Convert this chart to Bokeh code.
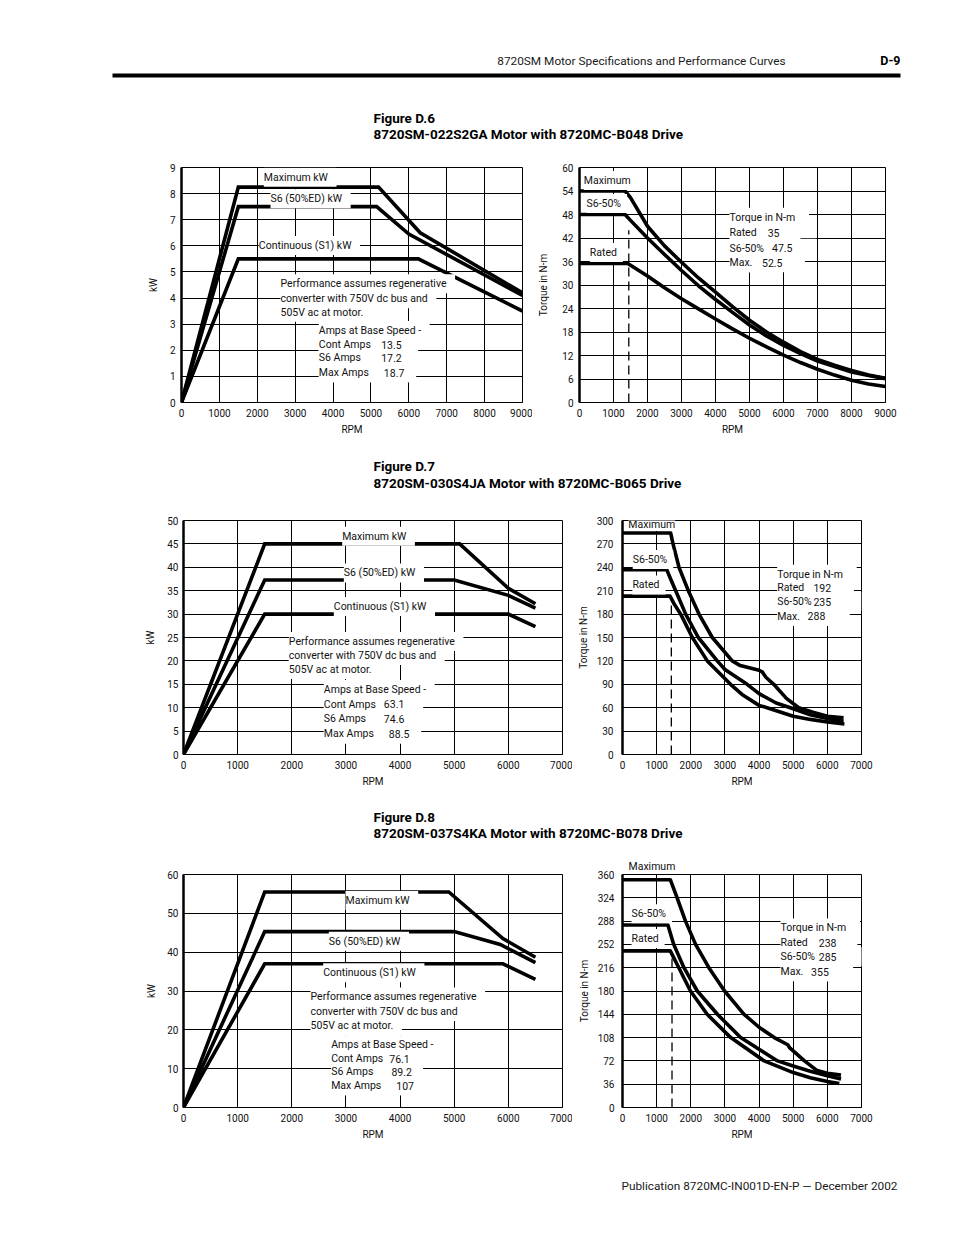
from bokeh.plotting import figure
from bokeh.layouts import column, row
from bokeh.models import Label, Range1d, FixedTicker, Title
from bokeh.core.properties import value
from bokeh.embed import file_html
from bokeh.resources import INLINE

FONT = "Roboto"

# ---------------- page texts ----------------
header_text = "8720SM Motor Specifications and Performance Curves"
page_no = "D-9"
footer_text = "Publication 8720MC-IN001D-EN-P \u2014 December 2002"
fig_numbers = ["Figure D.6", "Figure D.7", "Figure D.8"]
fig_titles = ["8720SM-022S2GA Motor with 8720MC-B048 Drive",
              "8720SM-030S4JA Motor with 8720MC-B065 Drive",
              "8720SM-037S4KA Motor with 8720MC-B078 Drive"]

note_lines = ["Performance assumes regenerative", "converter with 750V dc bus and", "505V ac at motor."]
amps_lines = ["Amps at Base Speed -", "Cont Amps", "S6 Amps", "Max Amps"]
torque_lines = ["Torque in N-m", "Rated", "S6-50%", "Max."]
kw_curve_names = ["Maximum kW", "S6 (50%ED) kW", "Continuous (S1) kW"]
tq_curve_names = ["Maximum", "S6-50%", "Rated"]

# ---------------- ticks ----------------
ticks_rpm_9000 = [0, 1000, 2000, 3000, 4000, 5000, 6000, 7000, 8000, 9000]
ticks_rpm_7000 = [0, 1000, 2000, 3000, 4000, 5000, 6000, 7000]
d6_kw_ticks = [0, 1, 2, 3, 4, 5, 6, 7, 8, 9]
d6_tq_ticks = [0, 6, 12, 18, 24, 30, 36, 42, 48, 54, 60]
d7_kw_ticks = [0, 5, 10, 15, 20, 25, 30, 35, 40, 45, 50]
d7_tq_ticks = [0, 30, 60, 90, 120, 150, 180, 210, 240, 270, 300]
d8_kw_ticks = [0, 10, 20, 30, 40, 50, 60]
d8_tq_ticks = [0, 36, 72, 108, 144, 180, 216, 252, 288, 324, 360]

# ---------------- Figure D.6 data ----------------
d6_kw_max_rpm = [0, 1500, 5200, 6300, 9000]
d6_kw_max = [0, 8.25, 8.25, 6.5, 4.2]
d6_kw_s6_rpm = [0, 1500, 5150, 6000, 9000]
d6_kw_s6 = [0, 7.5, 7.5, 6.45, 4.1]
d6_kw_cont_rpm = [0, 1500, 6250, 9000]
d6_kw_cont = [0, 5.5, 5.5, 3.5]
d6_amps = ["13.5", "17.2", "18.7"]

d6_tq_max_rpm = [0, 1340, 1500, 2000, 2500, 3000, 3500, 4000, 4500, 5000, 5500, 6000, 6500, 7000, 7500, 8000, 8500, 9000]
d6_tq_max = [54, 54, 52.3, 45, 40, 35.8, 31.8, 28.2, 24.5, 21, 18, 15.4, 13, 11, 9.5, 8.2, 7, 6.2]
d6_tq_s6_rpm = [0, 1340, 1500, 2000, 2500, 3000, 3500, 4000, 4500, 5000, 5500, 6000, 6500, 7000, 7500, 8000, 8500, 9000]
d6_tq_s6 = [48, 48, 46.5, 42, 37.8, 33.7, 29.8, 26.3, 23, 19.8, 17, 14.6, 12.5, 10.6, 9.2, 7.8, 6.9, 6.1]
d6_tq_rated_rpm = [0, 1420, 2000, 2500, 3000, 3500, 4000, 4500, 5000, 5500, 6000, 6500, 7000, 7500, 8000, 8500, 9000]
d6_tq_rated = [35.5, 35.5, 32.3, 29.3, 26.5, 23.9, 21.3, 18.8, 16.4, 14.2, 12.1, 10.2, 8.5, 7, 5.7, 4.7, 4.1]
d6_torque_vals = ["35", "47.5", "52.5"]
d6_base_rpm = [1450, 1450]
d6_base_tq = [0, 44]

# ---------------- Figure D.7 data ----------------
d7_kw_max_rpm = [0, 1500, 5100, 6000, 6500]
d7_kw_max = [0, 45, 45, 35.5, 32.2]
d7_kw_s6_rpm = [0, 1500, 5000, 6000, 6500]
d7_kw_s6 = [0, 37.3, 37.3, 34, 31.3]
d7_kw_cont_rpm = [0, 1500, 6000, 6500]
d7_kw_cont = [0, 30, 30, 27.3]
d7_amps = ["63.1", "74.6", "88.5"]

d7_tq_max_rpm = [0, 1410, 1480, 1655, 1928, 2240, 2630, 3213, 3450, 4000, 4090, 4200, 4430, 4800, 5160, 5600, 6000, 6475]
d7_tq_max = [284, 284, 270, 240, 210, 180, 150, 120, 114, 108, 106, 99, 90, 72, 60, 54, 49, 47]
d7_tq_s6_rpm = [0, 1295, 1400, 1558, 1850, 2220, 2775, 3000, 3650, 4000, 4500, 4917, 5500, 6000, 6475]
d7_tq_s6 = [237, 237, 226, 210, 180, 150, 120, 109, 90, 78, 66, 60, 51, 46, 42.5]
d7_tq_rated_rpm = [0, 1392, 1500, 1704, 2045, 2483, 3165, 3500, 4000, 4236, 5000, 5500, 6000, 6500]
d7_tq_rated = [203, 203, 194, 180, 150, 120, 90, 77, 63, 60, 49, 45, 41.7, 39]
d7_torque_vals = ["192", "235", "288"]
d7_base_rpm = [1430, 1430]
d7_base_tq = [0, 197]

# ---------------- Figure D.8 data ----------------
d8_kw_max_rpm = [0, 1500, 4900, 5900, 6500]
d8_kw_max = [0, 55.5, 55.5, 43.5, 38.7]
d8_kw_s6_rpm = [0, 1500, 5000, 5850, 6500]
d8_kw_s6 = [0, 45.3, 45.3, 42, 37.3]
d8_kw_cont_rpm = [0, 1500, 5900, 6500]
d8_kw_cont = [0, 37, 37, 33]
d8_amps = ["76.1", "89.2", "107"]

d8_tq_max_rpm = [0, 1400, 1600, 1845, 2140, 2530, 2990, 3560, 4000, 4445, 4840, 4900, 5330, 5700, 6000, 6400]
d8_tq_max = [352, 352, 324, 288, 252, 216, 180, 144, 124, 108, 97, 92, 72, 57, 53, 50]
d8_tq_s6_rpm = [0, 1330, 1500, 1800, 2190, 2780, 3460, 4540, 5000, 5500, 6000, 6400]
d8_tq_s6 = [282, 282, 252, 216, 180, 144, 108, 72, 64, 56, 49, 44]
d8_tq_rated_rpm = [0, 1400, 1650, 1990, 2480, 3170, 4150, 5000, 5500, 6000, 6350]
d8_tq_rated = [242, 242, 216, 180, 144, 108, 72, 54, 46, 40, 37]
d8_torque_vals = ["238", "285", "355"]
d8_base_rpm = [1450, 1450]
d8_base_tq = [0, 235]

TXT = "10.5px"
TICK = "10px"
INK = "#111111"
NB = "\u00a0"


def base_fig(w, h, bl, br, bt, bb, xr, yr, xticks, yticks, ylabel, ystd, ylstd, xstd=6, xlstd=4):
    p = figure(width=w, height=h, x_range=Range1d(*xr), y_range=Range1d(*yr),
               output_backend="svg", toolbar_location=None,
               min_border_left=bl, min_border_right=br, min_border_top=bt, min_border_bottom=bb)
    p.background_fill_color = "white"
    p.border_fill_color = "white"
    p.outline_line_color = "black"
    p.outline_line_width = 1
    p.xaxis.ticker = FixedTicker(ticks=xticks)
    p.yaxis.ticker = FixedTicker(ticks=yticks)
    p.xaxis.axis_label = "RPM"
    p.yaxis.axis_label = ylabel
    for ax in (p.xaxis, p.yaxis):
        ax.major_tick_out = 0
        ax.major_tick_in = 0
        ax.minor_tick_out = 0
        ax.minor_tick_in = 0
        ax.axis_line_color = "black"
        ax.major_label_text_font = FONT
        ax.major_label_text_font_size = TICK
        ax.major_label_text_color = INK
        ax.axis_label_text_font = FONT
        ax.axis_label_text_font_size = TICK
        ax.axis_label_text_font_style = "normal"
        ax.axis_label_text_color = INK
    p.yaxis.axis_line_width = 2.5
    p.xaxis.axis_line_width = 1
    p.yaxis.major_label_standoff = ystd
    p.yaxis.axis_label_standoff = ylstd
    p.xaxis.major_label_standoff = xstd
    p.xaxis.axis_label_standoff = xlstd
    p.grid.grid_line_color = "black"
    p.grid.grid_line_width = 1
    p.grid.grid_line_alpha = 1
    return p


def add_texts(p, bgs, items):
    """bgs: white boxes (x, y, sizing text, align, padding); items: visible texts (x, y, text, align)."""
    for x, y, t, a, pad in bgs:
        p.add_layout(Label(x=x, y=y, text=t, text_font=FONT, text_font_size=TXT, text_color="white",
                           text_align=a, text_baseline="middle",
                           background_fill_color="white", background_fill_alpha=1.0, padding=pad))
    for x, y, t, a in items:
        p.add_layout(Label(x=x, y=y, text=t, text_font=FONT, text_font_size=TXT, text_color=INK,
                           text_align=a, text_baseline="middle"))


def kw_chart(geom, xr, yr, xticks, yticks, ystd, ylstd, curves, names_pos, note_pos, amps_pos, vals, vals_x):
    p = base_fig(*geom, xr, yr, xticks, yticks, "kW", ystd, ylstd)
    for xs, ys in curves:
        p.line(xs, ys, line_color="black", line_width=3.6, line_join="miter")
    items = [(x, y, n, "left") for n, (x, y) in zip(kw_curve_names, names_pos)]
    nx, nys = note_pos
    items += [(nx, y, t, "left") for t, y in zip(note_lines, nys)]
    ax_, ays = amps_pos
    items += [(ax_, y, t, "left") for t, y in zip(amps_lines, ays)]
    vitems = [(x, y, v, "left") for v, x, y in zip(vals, vals_x, ays[1:])]
    bgs = [(x, y, t + NB, a, 3) for x, y, t, a in items]
    bgs += [(x, y, v + NB * 2, a, 3) for x, y, v, a in vitems]
    bgs += [(ax_, y, n + NB * 8 + v, "left", 3) for n, v, y in zip(amps_lines[1:], vals, ays[1:])]
    add_texts(p, bgs, items + vitems)
    return p


def tq_chart(geom, xr, yr, xticks, yticks, ystd, ylstd, curves, base, names_pos, blk_x, blk_ys, vals, vals_x,
             top_name=False, first_pad=3):
    p = base_fig(*geom, xr, yr, xticks, yticks, "Torque in N-m", ystd, ylstd)
    p.line(base[0], base[1], line_color="black", line_width=1.3, line_dash="9 5")
    for xs, ys in curves:
        p.line(xs, ys, line_color="black", line_width=3.6, line_join="round")
    names = list(zip(tq_curve_names, names_pos))
    pads = [first_pad, 3, 3]
    if top_name:
        # the first curve name sits above the plot frame
        t = Title(text=tq_curve_names[0], align="left", offset=6, standoff=4,
                  text_font=FONT, text_font_size=TXT, text_font_style="normal", text_color=INK)
        p.add_layout(t, "above")
        names = names[1:]
        pads = pads[1:]
    items = [(x, y, n, "left") for n, (x, y) in names]
    bgs = [(x, y, n, "left", pd) for (n, (x, y)), pd in zip(names, pads)]
    items += [(blk_x, y, t, "left") for t, y in zip(torque_lines, blk_ys)]
    bgs += [(blk_x, blk_ys[0], torque_lines[0] + NB * 3, "left", 3)]
    bgs += [(blk_x, y, n + NB * 8 + v + NB * 2, "left", 3)
            for n, v, y in zip(torque_lines[1:], vals, blk_ys[1:])]
    vitems = [(x, y, v, "right") for v, x, y in zip(vals, vals_x, blk_ys[1:])]
    bgs += [(x, y, NB + v + NB * 2, "right", 3) for x, y, v, a in vitems]
    add_texts(p, bgs, items + vitems)
    return p


# geometry: width, height, border left, right, top, bottom
c1 = kw_chart((532, 300, 181, 10, 17, 48), (0, 9000), (0, 9), ticks_rpm_9000, d6_kw_ticks, 6, 8,
              [(d6_kw_max_rpm, d6_kw_max), (d6_kw_s6_rpm, d6_kw_s6), (d6_kw_cont_rpm, d6_kw_cont)],
              [(2173, 8.63), (2349, 7.80), (2041, 6.01)],
              (2613, [4.55, 3.97, 3.46]), (3624, [2.76, 2.22, 1.71, 1.14]),
              d6_amps, [5270, 5270, 5340])
c2 = tq_chart((368, 300, 47, 15, 17, 48), (0, 9000), (0, 60), ticks_rpm_9000, d6_tq_ticks, 6, 10,
              [(d6_tq_max_rpm, d6_tq_max), (d6_tq_s6_rpm, d6_tq_s6), (d6_tq_rated_rpm, d6_tq_rated)],
              (d6_base_rpm, d6_base_tq),
              [(127, 56.7), (206, 50.8), (303, 38.3)],
              4412, [47.3, 43.3, 39.4, 35.7], d6_torque_vals, [5882, 6265, 5971])
c3 = kw_chart((572, 300, 183, 10, 15, 51), (0, 7000), (0, 50), ticks_rpm_7000, d7_kw_ticks, 5, 8,
              [(d7_kw_max_rpm, d7_kw_max), (d7_kw_s6_rpm, d7_kw_s6), (d7_kw_cont_rpm, d7_kw_cont)],
              [(2931, 46.65), (2961, 38.8), (2776, 31.6)],
              (1946, [24.15, 21.15, 18.16]), (2592, [13.9, 10.7, 7.6, 4.4]),
              d7_amps, [3700, 3700, 3793])
c4 = tq_chart((309, 300, 50, 20, 14, 51), (0, 7000), (0, 300), ticks_rpm_7000, d7_tq_ticks, 9, 5,
              [(d7_tq_max_rpm, d7_tq_max), (d7_tq_s6_rpm, d7_tq_s6), (d7_tq_rated_rpm, d7_tq_rated)],
              (d7_base_rpm, d7_base_tq),
              [(170, 295), (300, 250), (290, 217.4)],
              4530, [231, 214, 196, 177], d7_torque_vals, [6110, 6110, 5940], first_pad=0)
c5 = kw_chart((572, 295, 183, 10, 18, 43), (0, 7000), (0, 60), ticks_rpm_7000, d8_kw_ticks, 5, 7,
              [(d8_kw_max_rpm, d8_kw_max), (d8_kw_s6_rpm, d8_kw_s6), (d8_kw_cont_rpm, d8_kw_cont)],
              [(2992, 53.33), (2684, 42.8), (2580, 34.7)],
              (2346, [28.46, 24.7, 21.0]), (2728, [16.15, 12.6, 9.2, 5.6]),
              d8_amps, [3800, 3840, 3930])
c6 = tq_chart((309, 295, 50, 20, 19, 42), (0, 7000), (0, 360), ticks_rpm_7000, d8_tq_ticks, 8, 5,
              [(d8_tq_max_rpm, d8_tq_max), (d8_tq_s6_rpm, d8_tq_s6), (d8_tq_rated_rpm, d8_tq_rated)],
              (d8_base_rpm, d8_base_tq),
              [(185, 375), (264, 299.5), (264, 261)],
              4628, [277.4, 254.9, 232.8, 209.7], d8_torque_vals, [6268, 6268, 6043], top_name=True)

PAGE_W = 946


def band(h):
    p = figure(width=PAGE_W, height=h, x_range=Range1d(0, PAGE_W), y_range=Range1d(h, 0),
               output_backend="svg", toolbar_location=None, min_border=0,
               x_axis_location=None, y_axis_location=None)
    p.grid.visible = False
    p.outline_line_color = None
    p.background_fill_color = "white"
    p.border_fill_color = "white"
    return p


def title_text(p, y1, y2, i):
    p.text(x=[373, 373], y=[y1, y2], text=[fig_numbers[i], fig_titles[i]],
           text_font=value(FONT), text_font_size="13.5px", text_font_style="bold",
           text_align="left", text_baseline="middle", text_color="black")


b0 = band(150)
b0.text(x=[785], y=[60], text=[header_text], text_font=value(FONT), text_font_size="11.8px",
        text_align="right", text_baseline="middle", text_color="#1a1a1a")
b0.text(x=[900], y=[60], text=[page_no], text_font=value(FONT), text_font_size="12.5px",
        text_font_style="bold", text_align="right", text_baseline="middle", text_color="black")
b0.segment(x0=[112], y0=[75], x1=[900], y1=[75], line_color="black", line_width=4)
title_text(b0, 117, 133, 0)

b1 = band(55)
title_text(b1, 15, 32, 1)

b2 = band(50)
title_text(b2, 11, 27, 2)

b3 = band(77)
b3.text(x=[897], y=[35], text=[footer_text], text_font=value(FONT), text_font_size="11.8px",
        text_align="right", text_baseline="middle", text_color="#1a1a1a")

layout = column(b0, row(c1, c2), b1, row(c3, c4), b2, row(c5, c6), b3)

with open("out.html", "w") as f:
    f.write(file_html(layout, INLINE, "8720SM Motor Performance Curves"))
